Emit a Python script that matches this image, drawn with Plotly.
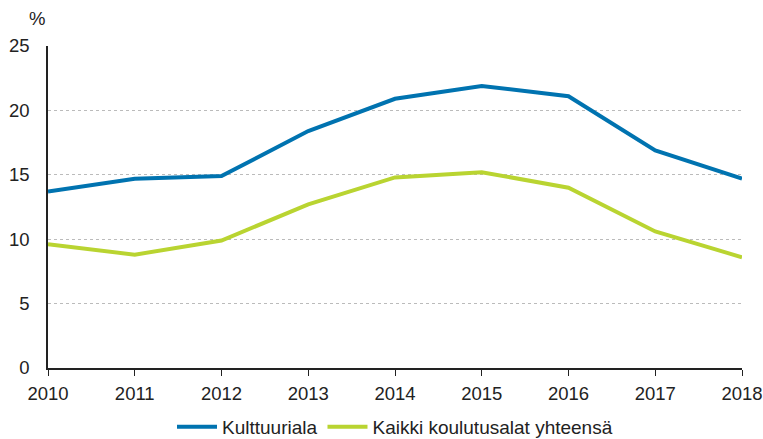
import plotly.graph_objects as go

years = [2010, 2011, 2012, 2013, 2014, 2015, 2016, 2017, 2018]
kulttuuriala = [13.7, 14.7, 14.9, 18.4, 20.9, 21.9, 21.1, 16.9, 14.7]
kaikki = [9.6, 8.8, 9.9, 12.7, 14.8, 15.2, 14.0, 10.6, 8.6]
y_ticks = [0, 5, 10, 15, 20, 25]

fig = go.Figure()
fig.add_trace(go.Scatter(x=years, y=kulttuuriala, mode="lines", name="Kulttuuriala",
                         line=dict(color="#0073B0", width=4)))
fig.add_trace(go.Scatter(x=years, y=kaikki, mode="lines", name="Kaikki koulutusalat yhteensä",
                         line=dict(color="#B9D431", width=4)))

fig.update_layout(
    width=763, height=439,
    margin=dict(l=48, r=21, t=46, b=71, autoexpand=False),
    paper_bgcolor="white", plot_bgcolor="white",
    font=dict(family="Liberation Sans, Arial, sans-serif", size=18.5, color="#222"),
    showlegend=True,
    legend=dict(orientation="h", x=0.5, xanchor="center", y=-0.183, yanchor="middle",
                font=dict(size=19), itemwidth=40, traceorder="normal",
                bgcolor="rgba(0,0,0,0)"),
    xaxis=dict(range=[2010, 2018], tickvals=years, showgrid=False, showline=True,
               linecolor="#222", linewidth=1.5, ticks="outside", ticklen=6,
               tickcolor="#222", zeroline=False, automargin=False, ticklabelstandoff=2),
    yaxis=dict(range=[0, 25], tickvals=y_ticks, showgrid=True, gridcolor="#bbb",
               griddash="dot", gridwidth=1, showline=True, linecolor="#222",
               linewidth=1.5, ticks="", zeroline=False, ticklabelstandoff=13,
               automargin=False),
    annotations=[dict(text="%", x=-0.016, xref="paper", xanchor="center",
                      y=1.084, yref="paper", yanchor="middle",
                      showarrow=False, font=dict(size=18.5))],
)

fig.write_html("out.html", config={"displayModeBar": False},
               post_script="document.body.style.margin='0';")
